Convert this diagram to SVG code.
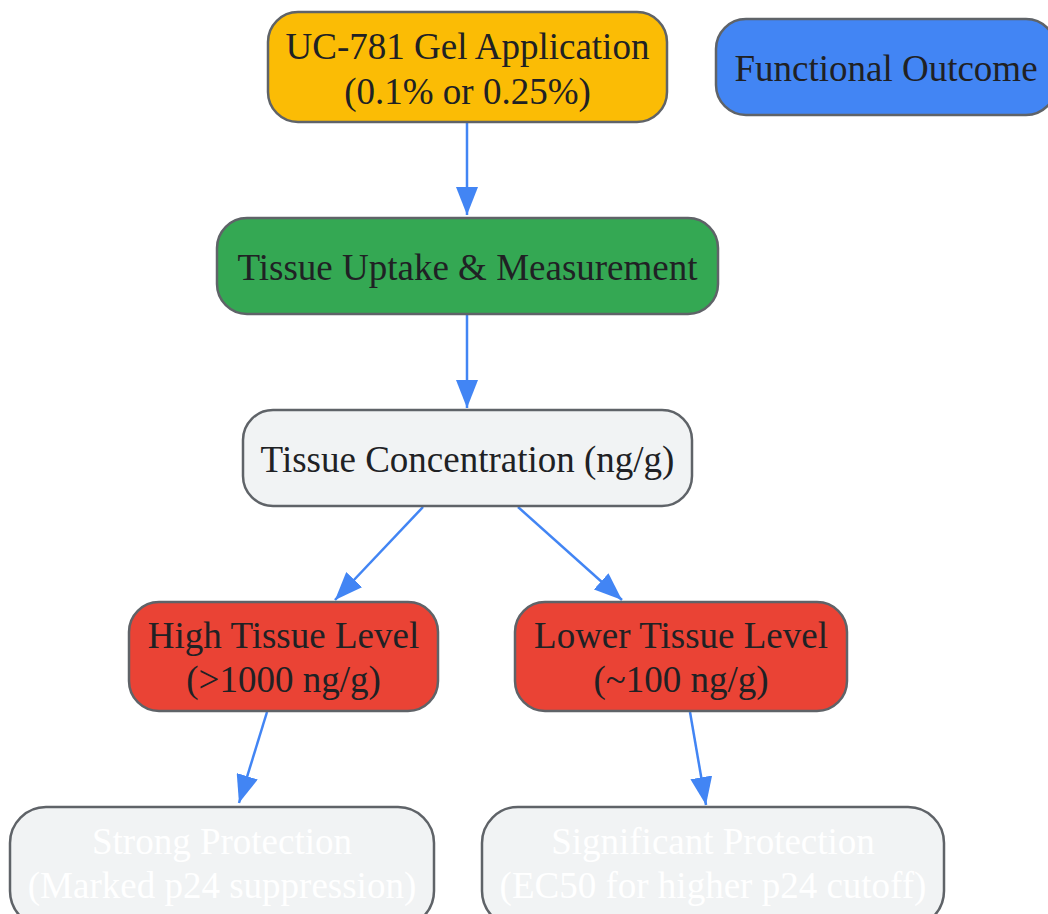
<svg xmlns="http://www.w3.org/2000/svg" width="1048" height="914" viewBox="0 0 1048 914">
<style>
.n{stroke:#5f6368;stroke-width:2.5}
.t{font-family:"Liberation Serif","Times New Roman",serif;font-size:37px;fill:#202124;text-anchor:middle}
.w{fill:#ffffff}
.e{stroke:#4285F4;stroke-width:2.5;fill:none}
</style>
<defs>
<marker id="ah" viewBox="0 0 28 22" refX="28" refY="11" markerWidth="28" markerHeight="22" markerUnits="userSpaceOnUse" orient="auto">
<path d="M0,0 L28,11 L0,22 z" fill="#4285F4"/>
</marker>
</defs>
<rect width="1048" height="914" fill="#ffffff"/>
<g id="edges">
<path class="e" d="M467,122 L467,215" marker-end="url(#ah)"/>
<path class="e" d="M467,314 L467,408" marker-end="url(#ah)"/>
<path class="e" d="M423,507 L335,600" marker-end="url(#ah)"/>
<path class="e" d="M518,507 L622,600" marker-end="url(#ah)"/>
<path class="e" d="M267,712 L239,803" marker-end="url(#ah)"/>
<path class="e" d="M690,712 L706,805" marker-end="url(#ah)"/>
</g>
<g id="gel">
<rect class="n" x="268" y="12" width="399" height="110" rx="30" fill="#FBBC05"/>
<text class="t" x="467.5" y="59">UC-781 Gel Application</text>
<text class="t" x="467.5" y="104">(0.1% or 0.25%)</text>
</g>
<g id="outcome">
<rect class="n" x="716" y="19" width="340" height="96" rx="30" fill="#4285F4"/>
<text class="t" x="886" y="81">Functional Outcome</text>
</g>
<g id="uptake">
<rect class="n" x="217" y="218" width="501" height="96" rx="30" fill="#34A853"/>
<text class="t" x="467.5" y="280">Tissue Uptake &amp; Measurement</text>
</g>
<g id="conc">
<rect class="n" x="243" y="410" width="449" height="96" rx="30" fill="#F1F3F4"/>
<text class="t" x="467.5" y="472">Tissue Concentration (ng/g)</text>
</g>
<g id="high">
<rect class="n" x="129" y="602" width="309" height="109" rx="30" fill="#EA4335"/>
<text class="t" x="283.5" y="648">High Tissue Level</text>
<text class="t" x="283.5" y="692">(&gt;1000 ng/g)</text>
</g>
<g id="lower">
<rect class="n" x="515" y="602" width="332" height="109" rx="30" fill="#EA4335"/>
<text class="t" x="681" y="648">Lower Tissue Level</text>
<text class="t" x="681" y="692">(~100 ng/g)</text>
</g>
<g id="strong">
<rect class="n" x="10" y="807" width="424" height="120" rx="36" fill="#F1F3F4"/>
<text class="t w" x="222" y="854">Strong Protection</text>
<text class="t w" x="222" y="898">(Marked p24 suppression)</text>
</g>
<g id="signif">
<rect class="n" x="482" y="807" width="462" height="120" rx="36" fill="#F1F3F4"/>
<text class="t w" x="713" y="854">Significant Protection</text>
<text class="t w" x="713" y="898">(EC50 for higher p24 cutoff)</text>
</g>
</svg>
